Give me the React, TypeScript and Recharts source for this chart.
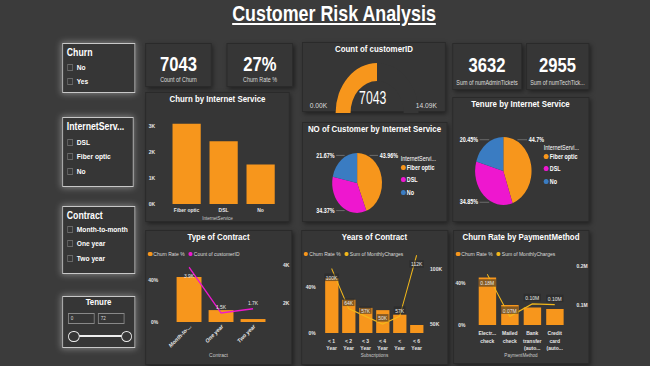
import React from "react";
import {
  BarChart,
  Bar,
  XAxis,
  YAxis,
  PieChart,
  Pie,
  Cell,
  ComposedChart,
  Line,
  LabelList,
} from "recharts";

// the reference is squeezed horizontally; draw wide, then scaleX
const S = 0.83;
const sx = (v: number) => v / S;

const FONT = '"Liberation Sans", Arial, sans-serif';
const ORANGE = "#F7961C";
const MAGENTA = "#EE17CF";
const BLUE = "#3A7CC2";
const YELLOW = "#F3B81B";
const PAGE_BG = "#3b3b3b";
const PANEL_BG = "#363636";
const TICK_FILL = "#e6e6e6";

// internet service
const services = ["Fiber optic", "DSL", "No"];
const churnByService = [3096, 2421, 1526];
const customersByService = [3096, 2421, 1526];
const tenureShareByService = [44.7, 34.85, 20.45];
const serviceColors = [ORANGE, MAGENTA, BLUE];

// gauge
const customerCount = 7043;
const gaugeMax = 14086;

// contract
const contracts = ["Month-to-month", "One year", "Two year"];
const contractTickLabels = ["Month-to-...", "One year", "Two year"];
const contractChurnRate = [42.7, 11.3, 2.8];
const contractCustomers = [3875, 1473, 1695];

// tenure bins
const tenureBins = ["< 1 Year", "< 2 Year", "< 3 Year", "< 4 Year", "< Year", "< 6 Year"];
const tenureTickLabels = [["< 1", "Year"], ["< 2", "Year"], ["< 3", "Year"], ["< 4", "Year"], ["<", "Year"], ["< 6", "Year"]];
const tenureChurnRate = [48, 29, 22, 20, 16, 7];
const tenureCharges = [100000, 64000, 57000, 50000, 57000, 112000];

// payment method
const payments = ["Electronic check", "Mailed check", "Bank transfer (automatic)", "Credit card (automatic)"];
const paymentTickLabels = [["Electr...", "check"], ["Mailed", "check"], ["Bank", "transfer", "(auto..."], ["Credit", "card", "(auto..."]];
const paymentChurnRate = [45.3, 19.1, 16.7, 15.2];
const paymentCharges = [179000, 70800, 103000, 101000];

const serviceBarData = services.map((name, i) => ({ name, value: churnByService[i] }));
const servicePieData = services.map((name, i) => ({ name, value: customersByService[i] }));
const tenurePieData = services.map((name, i) => ({ name, value: tenureShareByService[i] }));
const contractData = contracts.map((name, i) => ({ name, rate: contractChurnRate[i], count: contractCustomers[i] }));
const tenureData = tenureBins.map((name, i) => ({ name, rate: tenureChurnRate[i], charges: tenureCharges[i] }));
const paymentData = payments.map((name, i) => ({ name, rate: paymentChurnRate[i], charges: paymentCharges[i] }));
const gaugeData = [{ v: customerCount }, { v: gaugeMax - customerCount }];

function Panel({ left, top, width, height, glow, children }: any) {
  return (
    <div
      style={{
        position: "absolute",
        left: sx(left),
        top,
        width: sx(width),
        height,
        boxSizing: "border-box",
        background: PANEL_BG,
        border: glow ? "1px solid #c8c8c8" : "1px solid #2a2a2a",
        boxShadow: glow ? "0 0 7px 1px rgba(255,255,255,0.35)" : "2px 2px 5px rgba(0,0,0,0.45)",
      }}
    >
      {children}
    </div>
  );
}

function Txt({ x, y, size, bold, color = "#fff", center, children }: any) {
  return (
    <div
      style={{
        position: "absolute",
        left: center ? 0 : sx(x),
        right: center ? 0 : undefined,
        top: y,
        textAlign: center ? "center" : "left",
        color,
        fontWeight: bold ? 700 : 400,
        fontSize: size,
        whiteSpace: "nowrap",
        lineHeight: 1.15,
      }}
    >
      {children}
    </div>
  );
}

function Card({ left, top, width, height, value, label, vy, ly }: any) {
  return (
    <Panel left={left} top={top} width={width} height={height}>
      <Txt center y={vy} size={20} bold>{value}</Txt>
      <Txt center y={ly} size={6.5} color="#ddd">{label}</Txt>
    </Panel>
  );
}

function Slicer({ left, top, width, height, title, items, itemY, gap }: any) {
  return (
    <Panel left={left} top={top} width={width} height={height} glow>
      <Txt x={4} y={2} size={10.5} bold>{title}</Txt>
      {items.map((it: string, i: number) => (
        <div key={it} style={{ position: "absolute", left: sx(4), top: itemY + i * gap - 5, height: 10, display: "flex", alignItems: "center" }}>
          <div style={{ width: sx(6), height: 7, boxSizing: "border-box", border: "1px solid #6a6a6a", marginRight: sx(4) }} />
          <span style={{ color: "#fff", fontSize: 8, fontWeight: 700, whiteSpace: "nowrap" }}>{it}</span>
        </div>
      ))}
    </Panel>
  );
}

function LegendRow({ items }: any) {
  return (
    <>
      {items.map((it: any, i: number) => (
        <div key={it.label} style={{ position: "absolute", left: sx(i === 0 ? 2 : 42.5), top: 19, height: 8, display: "flex", alignItems: "center", whiteSpace: "nowrap" }}>
          <span style={{ width: sx(4.5), height: 4.5, borderRadius: 3, background: it.color, marginRight: sx(1) }} />
          <span style={{ color: "#ddd", fontSize: 6 }}>{it.label}</span>
        </div>
      ))}
    </>
  );
}

function PieLegend({ left, top }: any) {
  return (
    <>
      <Txt x={left - 1} y={top} size={6.5}>InternetServi...</Txt>
      {services.map((s, i) => (
        <div key={s} style={{ position: "absolute", left: sx(left - 1), top: top + 8 + i * 12.5, height: 8, display: "flex", alignItems: "center" }}>
          <span style={{ width: sx(5), height: 5, borderRadius: 3, background: serviceColors[i], marginRight: sx(1) }} />
          <span style={{ color: "#fff", fontSize: 6.5, fontWeight: 700 }}>{s}</span>
        </div>
      ))}
    </>
  );
}

const fmtPct = (p: number) => `${parseFloat((p * 100).toFixed(2))}%`;

const renderPieLabel = (props: any) => {
  const { cx, cy, midAngle, outerRadius: r, percent } = props;
  const rad = Math.PI / 180;
  const cos = Math.cos(-midAngle * rad);
  const sin = Math.sin(-midAngle * rad);
  const dir = cos >= 0 ? 1 : -1;
  const ly = cy + (sin >= 0 ? 0.92 : -0.92) * r;
  const x1 = cx + dir * 0.5 * r;
  const x2 = cx + dir * 0.84 * r;
  return (
    <g>
      <path d={`M${x1},${ly}L${x2},${ly}`} stroke="#8a8a8a" strokeWidth={0.7} fill="none" />
      <text x={x2 + dir * 2} y={ly} dy={2.2} textAnchor={dir > 0 ? "start" : "end"} fill="#fff" fontSize={6.5} fontWeight={700} fontFamily={FONT}>
        {fmtPct(percent)}
      </text>
    </g>
  );
};

const yTick = (fmt: (v: number) => string, tx: number, anchor: "start" | "end") => (props: any) => {
  const { y, payload } = props;
  return (
    <text x={sx(tx)} y={y} dy={2.2} textAnchor={anchor} fill={TICK_FILL} fontSize={6} fontWeight={700} fontFamily={FONT}>
      {fmt(payload.value)}
    </text>
  );
};

const lineTick = (labels: string[][], firstY: number, gap: number) => (props: any) => {
  const { x, index } = props;
  const lines = labels[index] || [];
  return (
    <text textAnchor="middle" fill={TICK_FILL} fontSize={6} fontWeight={700} fontFamily={FONT}>
      {lines.map((l, i) => (
        <tspan key={i} x={x} y={firstY + i * gap}>
          {l}
        </tspan>
      ))}
    </text>
  );
};

const rotatedTick = (props: any) => {
  const { x, index } = props;
  const y = 96;
  return (
    <text x={x + 3} y={y} textAnchor="end" transform={`rotate(-40, ${x + 3}, ${y})`} fill={TICK_FILL} fontSize={6} fontWeight={700} fontFamily={FONT}>
      {contractTickLabels[index]}
    </text>
  );
};

const lineLabel = (fmt: (v: number) => string, plotTop: number, boxed: boolean) => (props: any) => {
  const { x, y, value } = props;
  const below = y < plotTop + 20;
  const ty = below ? y + 9 : y - 6;
  const txt = fmt(value);
  const w = txt.length * 3.4 + 4;
  return (
    <g>
      {boxed && <rect x={x - w / 2} y={ty - 4} width={w} height={7.5} fill="rgba(40,40,40,0.55)" />}
      <text x={x} y={ty} dy={2.2} textAnchor="middle" fill="#e8e8e8" fontSize={6} fontFamily={FONT}>
        {txt}
      </text>
    </g>
  );
};

const kFmt = (v: number) => `${v / 1000}K`;
const pctFmt = (v: number) => `${v}%`;

export default function App() {
  return (
    <div style={{ position: "fixed", left: 0, top: 0, width: 650, height: 366, background: PAGE_BG, overflow: "hidden" }}>
      <div style={{ position: "absolute", left: 0, top: 0, width: sx(650), height: 366, transform: `scaleX(${S})`, transformOrigin: "0 0", fontFamily: FONT }}>
        <div style={{ position: "absolute", left: 0, width: sx(668), top: 2, textAlign: "center" }}>
          <span style={{ color: "#fff", fontWeight: 700, fontSize: 21.5, textDecoration: "underline", textUnderlineOffset: 2 }}>
            Customer Risk Analysis
          </span>
        </div>

        {/* slicers */}
        <Slicer left={62} top={43} width={73} height={50} title="Churn" items={["No", "Yes"]} itemY={23} gap={14} />
        <Slicer left={62} top={117} width={72} height={70} title="InternetServ..." items={["DSL", "Fiber optic", "No"]} itemY={24} gap={14.5} />
        <Slicer left={62} top={206} width={73} height={68} title="Contract" items={["Month-to-month", "One year", "Two year"]} itemY={22} gap={14.5} />
        <Panel left={62} top={296} width={73} height={52} glow>
          <Txt center y={0} size={9.5} bold>Tenure</Txt>
          <div style={{ position: "absolute", left: sx(5), top: 16, width: sx(27), height: 11, boxSizing: "border-box", border: "1px solid #888", color: "#ddd", fontSize: 5.5, paddingLeft: sx(2), lineHeight: "9px" }}>0</div>
          <div style={{ position: "absolute", left: sx(35), top: 16, width: sx(27), height: 11, boxSizing: "border-box", border: "1px solid #888", color: "#ddd", fontSize: 5.5, paddingLeft: sx(2), lineHeight: "9px" }}>72</div>
          <div style={{ position: "absolute", left: sx(11), top: 38, width: sx(53), height: 1.5, background: "#eee" }} />
          <div style={{ position: "absolute", left: sx(5.5), top: 33.5, width: sx(11), height: 11, boxSizing: "border-box", borderRadius: "50%", border: "1.5px solid #eee", background: PANEL_BG }} />
          <div style={{ position: "absolute", left: sx(58.5), top: 33.5, width: sx(11), height: 11, boxSizing: "border-box", borderRadius: "50%", border: "1.5px solid #eee", background: PANEL_BG }} />
        </Panel>

        {/* cards */}
        <Card left={145} top={43} width={67} height={44} value="7043" label="Count of Churn" vy={8.5} ly={31.5} />
        <Card left={227} top={43} width={66} height={44} value="27%" label="Churn Rate %" vy={8.5} ly={31.5} />
        <Card left={452} top={43} width={70} height={47} value="3632" label="Sum of numAdminTickets" vy={9.5} ly={35} />
        <Card left={526} top={43} width={63} height={47} value="2955" label="Sum of numTechTick..." vy={9.5} ly={35} />

        {/* gauge */}
        <Panel left={302} top={42} width={144} height={70}>
          <Txt center y={1} size={9.5} bold>Count of customerID</Txt>
          <div style={{ position: "absolute", left: 0, top: 0 }}>
            <PieChart width={sx(144)} height={70}>
              <Pie data={gaugeData} dataKey="v" cx={sx(70)} cy={65} startAngle={180} endAngle={0} innerRadius={32} outerRadius={50} stroke="none" isAnimationActive={false}>
                <Cell fill={ORANGE} />
                <Cell fill={PANEL_BG} />
              </Pie>
            </PieChart>
          </div>
          <div style={{ position: "absolute", left: sx(50), width: sx(40), top: 45, textAlign: "center", color: "#fff", fontSize: 18, lineHeight: 1.15, transform: "scaleX(0.82)" }}>{customerCount}</div>
          <Txt x={7} y={58} size={8} color="#ddd">0.00K</Txt>
          <Txt x={113} y={58} size={8} color="#ddd">{(gaugeMax / 1000).toFixed(2)}K</Txt>
        </Panel>

        {/* churn by internet service */}
        <Panel left={145} top={92} width={145} height={130}>
          <Txt center y={1} size={9.5} bold>Churn by Internet Service</Txt>
          <div style={{ position: "absolute", left: 0, top: 0 }}>
            <BarChart width={sx(145)} height={130} data={serviceBarData} margin={{ top: 28, right: sx(12), bottom: 0, left: 0 }} barCategoryGap="12%">
              <XAxis dataKey="name" axisLine={false} tickLine={false} height={19} interval={0} tick={lineTick(services.map((s) => [s]), 119, 0)} />
              <YAxis width={sx(22)} domain={[0, 3200]} ticks={[0, 1000, 2000, 3000]} axisLine={false} tickLine={false} tick={yTick(kFmt, 9, "end")} />
              <Bar dataKey="value" fill={ORANGE} isAnimationActive={false} />
            </BarChart>
          </div>
          <Txt center y={122} size={5.5} color="#ccc">InternetService</Txt>
        </Panel>

        {/* NO of customer pie */}
        <Panel left={302} top={122} width={145} height={100}>
          <Txt center y={1} size={9.5} bold>NO of Customer by Internet Service</Txt>
          <div style={{ position: "absolute", left: 0, top: 0 }}>
            <PieChart width={sx(145)} height={100}>
              <Pie data={servicePieData} dataKey="value" cx={sx(50)} cy={55} outerRadius={30} startAngle={90} endAngle={-270} stroke="none" labelLine={false} label={renderPieLabel} isAnimationActive={false}>
                {servicePieData.map((d, i) => (
                  <Cell key={d.name} fill={serviceColors[i]} />
                ))}
              </Pie>
            </PieChart>
          </div>
          <PieLegend left={99} top={32} />
        </Panel>

        {/* tenure pie */}
        <Panel left={452} top={97} width={137} height={125}>
          <Txt center y={1} size={9.5} bold>Tenure by Internet Service</Txt>
          <div style={{ position: "absolute", left: 0, top: 0 }}>
            <PieChart width={sx(137)} height={125}>
              <Pie data={tenurePieData} dataKey="value" cx={sx(46)} cy={68} outerRadius={34} startAngle={90} endAngle={-270} stroke="none" labelLine={false} label={renderPieLabel} isAnimationActive={false}>
                {tenurePieData.map((d, i) => (
                  <Cell key={d.name} fill={serviceColors[i]} />
                ))}
              </Pie>
            </PieChart>
          </div>
          <PieLegend left={92} top={46} />
        </Panel>

        {/* type of contract */}
        <Panel left={145} top={230} width={147} height={135}>
          <Txt center y={1} size={9.5} bold>Type of Contract</Txt>
          <LegendRow items={[{ label: "Churn Rate %", color: ORANGE }, { label: "Count of customerID", color: MAGENTA }]} />
          <div style={{ position: "absolute", left: 0, top: 0 }}>
            <ComposedChart width={sx(147)} height={135} data={contractData} margin={{ top: 32, right: 0, bottom: 0, left: 0 }} barCategoryGap="11%">
              <XAxis dataKey="name" axisLine={false} tickLine={false} height={44} interval={0} tick={rotatedTick} />
              <YAxis yAxisId="left" width={sx(27)} domain={[0, 56]} ticks={[0, 20, 40]} axisLine={false} tickLine={false} tick={yTick(pctFmt, 12, "end")} />
              <YAxis yAxisId="right" orientation="right" width={sx(24)} domain={[1000, 4100]} ticks={[2000, 4000]} axisLine={false} tickLine={false} tick={yTick(kFmt, 137, "start")} />
              <Bar yAxisId="left" dataKey="rate" fill={ORANGE} isAnimationActive={false} />
              <Line yAxisId="right" dataKey="count" stroke={MAGENTA} strokeWidth={1.5} dot={false} isAnimationActive={false}>
                <LabelList dataKey="count" content={lineLabel((v) => `${(v / 1000).toFixed(1)}K`, 32, false)} />
              </Line>
            </ComposedChart>
          </div>
          <Txt center y={121} size={6} color="#ccc">Contract</Txt>
        </Panel>

        {/* years of contract */}
        <Panel left={301} top={230} width={147} height={135}>
          <Txt center y={1} size={9.5} bold>Years of Contract</Txt>
          <LegendRow items={[{ label: "Churn Rate %", color: ORANGE }, { label: "Sum of MonthlyCharges", color: YELLOW }]} />
          <div style={{ position: "absolute", left: 0, top: 0 }}>
            <ComposedChart width={sx(147)} height={135} data={tenureData} margin={{ top: 22, right: 0, bottom: 0, left: 0 }} barCategoryGap="12%">
              <XAxis dataKey="name" axisLine={false} tickLine={false} height={33} interval={0} tick={lineTick(tenureTickLabels, 112, 7.5)} />
              <YAxis yAxisId="left" width={sx(21)} domain={[0, 70]} ticks={[0, 20, 40]} axisLine={false} tickLine={false} tick={yTick(pctFmt, 13.5, "end")} />
              <YAxis yAxisId="right" orientation="right" width={sx(24)} domain={[42000, 114000]} ticks={[50000, 100000]} axisLine={false} tickLine={false} tick={yTick(kFmt, 128, "start")} />
              <Bar yAxisId="left" dataKey="rate" fill={ORANGE} isAnimationActive={false} />
              <Line yAxisId="right" dataKey="charges" stroke={YELLOW} strokeWidth={1.2} dot={false} isAnimationActive={false}>
                <LabelList dataKey="charges" content={lineLabel((v) => `${Math.round(v / 1000)}K`, 22, true)} />
              </Line>
            </ComposedChart>
          </div>
          <Txt center y={121} size={5.5} color="#ccc">Subscriptions</Txt>
        </Panel>

        {/* payment method */}
        <Panel left={453} top={230} width={136} height={134}>
          <Txt center y={1} size={9.5} bold>Churn Rate by PaymentMethod</Txt>
          <LegendRow items={[{ label: "Churn Rate %", color: ORANGE }, { label: "Sum of MonthlyCharges", color: YELLOW }]} />
          <div style={{ position: "absolute", left: 0, top: 0 }}>
            <ComposedChart width={sx(136)} height={134} data={paymentData} margin={{ top: 28, right: 0, bottom: 0, left: 0 }} barCategoryGap="12%">
              <XAxis dataKey="name" axisLine={false} tickLine={false} height={40} interval={0} tick={lineTick(paymentTickLabels, 104.5, 7.5)} />
              <YAxis yAxisId="left" width={sx(22)} domain={[0, 63]} ticks={[0, 20, 40]} axisLine={false} tickLine={false} tick={yTick(pctFmt, 11.5, "end")} />
              <YAxis yAxisId="right" orientation="right" width={sx(24)} domain={[48700, 218000]} ticks={[100000, 200000]} axisLine={false} tickLine={false} tick={yTick((v) => `${v / 1e6}M`, 122.5, "start")} />
              <Bar yAxisId="left" dataKey="rate" fill={ORANGE} isAnimationActive={false} />
              <Line yAxisId="right" dataKey="charges" stroke={YELLOW} strokeWidth={1.2} dot={false} isAnimationActive={false}>
                <LabelList dataKey="charges" content={lineLabel((v) => `${(v / 1e6).toFixed(2)}M`, 28, true)} />
              </Line>
            </ComposedChart>
          </div>
          <Txt center y={121} size={5.5} color="#ccc">PaymentMethod</Txt>
        </Panel>
      </div>
    </div>
  );
}
